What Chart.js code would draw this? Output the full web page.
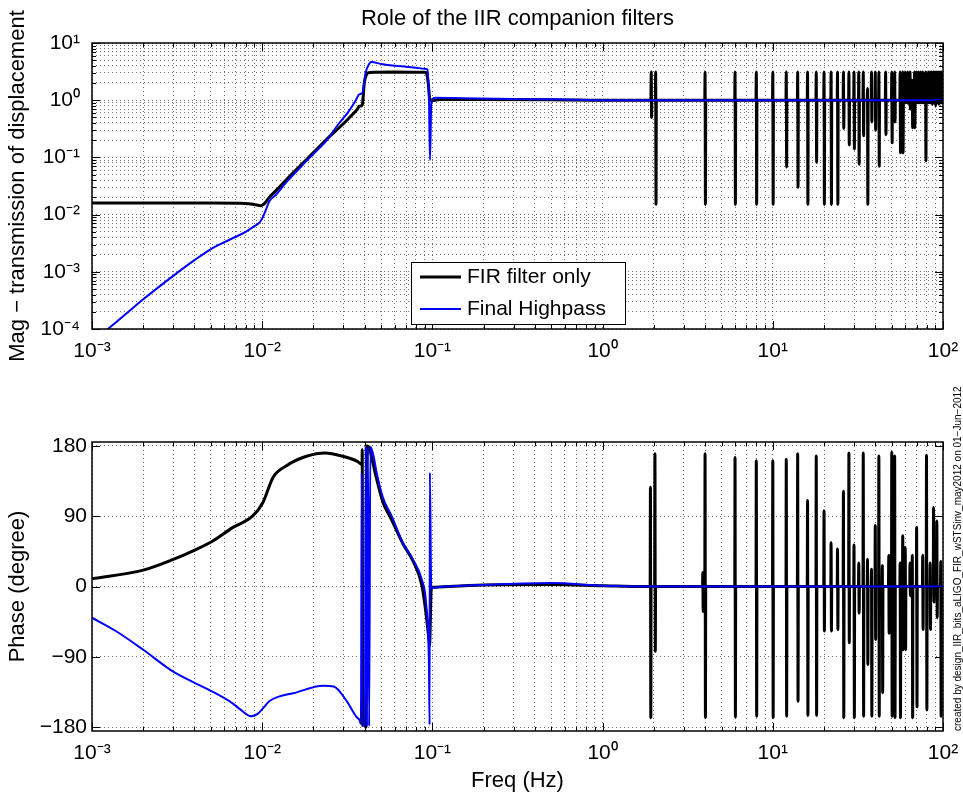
<!DOCTYPE html>
<html>
<head>
<meta charset="utf-8"/>
<title>Role of the IIR companion filters</title>
<script src="https://cdn.jsdelivr.net/npm/chart.js@4.4.1/dist/chart.umd.min.js"></script>
<style>
body { margin: 0; background: #fff; }
#wrap { position: relative; width: 963px; height: 794px; }
canvas { position: absolute; left: 0; }
</style>
</head>
<body>
<div id="wrap">
	<canvas id="mag" width="963" height="380" style="top:0px"></canvas>
	<canvas id="phase" width="963" height="414" style="top:380px"></canvas>
</div>
<script>
var FONT = "'Liberation Sans', Arial, Helvetica, sans-serif";
Chart.defaults.font.family = FONT;
Chart.defaults.color = '#000';

// ---- magnitude, FIR filter only (black) ----
var firMagF = [0.001, 0.005, 0.008, 0.009, 0.0098, 0.0103, 0.011, 0.012, 0.014, 0.017, 0.02, 0.024, 0.028, 0.032, 0.035, 0.0365, 0.037, 0.0383, 0.0388, 0.0398, 0.041, 0.0427, 0.06, 0.09, 0.092, 0.0945, 0.0965, 0.1, 0.11, 0.2, 0.5, 1, 1.8, 100];
var firMag  = [0.016, 0.016, 0.0157, 0.015, 0.0143, 0.0155, 0.02, 0.026, 0.042, 0.075, 0.121, 0.21, 0.32, 0.47, 0.62, 0.72, 0.78, 0.8, 0.85, 2.0, 2.8, 3.05, 3.1, 3.08, 3.05, 2.0, 1.05, 0.98, 1.03, 1.03, 1.02, 1.0, 1.0, 1.0];

// ---- magnitude, final highpass (blue) ----
var hpMagF = [0.001, 0.0012, 0.0015, 0.002, 0.003, 0.004, 0.005, 0.006, 0.007, 0.008, 0.009, 0.0095, 0.01, 0.0105, 0.011, 0.012, 0.014, 0.017, 0.02, 0.024, 0.028, 0.032, 0.0355, 0.037, 0.0385, 0.039, 0.0405, 0.0425, 0.0438, 0.05, 0.06, 0.07, 0.08, 0.09, 0.0935, 0.0955, 0.0968, 0.0985, 0.1, 0.105, 0.15, 0.3, 0.6, 1, 100];
var hpMag  = [5.6e-5, 9.2e-5, 1.6e-4, 3.3e-4, 8.5e-4, 1.6e-3, 2.5e-3, 3.3e-3, 4.1e-3, 5.0e-3, 6.3e-3, 7.0e-3, 8.5e-3, 0.012, 0.017, 0.022, 0.038, 0.07, 0.115, 0.2, 0.38, 0.62, 1.0, 1.25, 1.32, 1.4, 3.0, 4.3, 4.65, 4.3, 4.0, 3.85, 3.7, 3.55, 3.45, 1.0, 0.09, 0.9, 1.05, 1.1, 1.08, 1.05, 1.03, 1.0, 1.0];

// FIR comb notches above 1 Hz: frequency, peak, bottom
var notchF   = [1.93, 2.05, 4, 6, 8, 10, 12, 14, 16, 18, 20, 22, 24, 26, 28, 30, 32, 34, 36, 38, 40, 42, 46, 50, 52, 56, 58, 60, 62, 64, 66, 68, 70, 72, 74, 76, 79, 82, 84, 86, 88, 90, 92, 94, 96, 98];
var notchTop = [3.1, 3.1, 3.1, 3.1, 3.1, 3.1, 3.1, 3.1, 3.1, 3.1, 3.1, 3.1, 3.1, 3.1, 3.1, 3.1, 3.1, 3.1, 1.6, 3.1, 3.1, 3.1, 3.1, 3.1, 3.1, 3.1, 3.1, 3.1, 3.1, 3.1, 2.2, 3.1, 3.1, 3.1, 3.1, 3.1, 3.1, 3.1, 3.1, 3.1, 3.1, 3.1, 3.1, 3.1, 3.1, 3.1];
var notchLow = [0.5, 0.015, 0.015, 0.015, 0.015, 0.015, 0.068, 0.03, 0.015, 0.082, 0.015, 0.015, 0.015, 0.32, 0.165, 0.14, 0.076, 0.24, 0.015, 0.42, 0.3, 0.07, 0.25, 0.18, 0.42, 0.12, 0.12, 0.9, 0.88, 0.7, 0.33, 0.33, 0.9, 0.9, 0.9, 0.9, 0.087, 0.9, 0.9, 0.85, 0.9, 0.8, 0.9, 0.85, 0.9, 0.9];

// ---- phase, FIR filter only (black) ----
var firPhF = [0.001, 0.002, 0.003, 0.0039, 0.0051, 0.0067, 0.0088, 0.0101, 0.0116, 0.0139, 0.0182, 0.0234, 0.0298, 0.0364, 0.0386, 0.0387, 0.0389, 0.0398, 0.0408, 0.0412, 0.0425, 0.044, 0.047, 0.0512, 0.0574, 0.067, 0.0767, 0.0866, 0.0918, 0.0954, 0.0962, 0.0985, 0.1, 0.2, 0.5, 1, 1.8, 100];
var firPh  = [10, 21, 34.7, 45.4, 58, 75.4, 90.4, 107.6, 140, 154.7, 166.7, 171, 166.7, 160, 156, 175, -178, -170, -180, 180, 178, 165, 138, 108, 86, 55, 33, 2, -35, -68, -75, -2, -1, 2, 2.5, 1, 0, 0];

// ---- phase, final highpass (blue) ----
var hpPhF = [0.001, 0.00138, 0.002, 0.003, 0.0039, 0.0051, 0.0067, 0.0074, 0.0086, 0.0094, 0.0101, 0.011, 0.0125, 0.0152, 0.0228, 0.0263, 0.031, 0.0358, 0.0373, 0.038, 0.0385, 0.0388, 0.0402, 0.0405, 0.0412, 0.0418, 0.0425, 0.0432, 0.045, 0.047, 0.0512, 0.0574, 0.067, 0.0767, 0.0866, 0.0918, 0.0954, 0.0963, 0.0966, 0.0985, 0.1, 0.12, 0.2, 0.5, 1, 2, 100];
var hpPh  = [-40, -57, -81, -109, -122, -134.6, -149.6, -157, -166, -163, -156, -147, -141, -136.7, -127, -128, -145, -167, -171, -176, 145, -178, -178, 179, -179, 179, -179, 179, 168, 146, 114, 91, 56, 35, 9, -21, -98, -177, 146, -3, -2, 0, 2, 4.5, 1, 0, 0];

// FIR phase wraps at the comb notches: frequency, peak, bottom
var phSpikeF   = [1.91, 2.03, 3.88, 4, 6, 8, 10, 12, 14, 16, 18, 20, 22, 24, 26, 28, 30, 32, 34, 36, 38, 40, 42, 44, 48, 50, 52, 56, 58, 60, 64, 66, 70, 76, 80, 84, 88, 92, 97];
var phSpikeTop = [127, 170, 18, 170, 165, 161, 161, 163, 170, 110, 167, 97, 56, 48, 122, 171, 53, 30, 171, 35, 22, 78, 167, 27, 40, 172, 167, 30, 65, 50, 30, 40, 76, 40, 168, 30, 101, 84, 32];
var phSpikeLow = [-168, -83, -32, -168, -167, -166, -168, -166, -147, -165, -165, -57, -57, -55, -168, -72, -168, -34, -166, -100, -166, -68, -166, -136, -60, -166, -168, -168, -81, -81, -12, -168, -154, -55, -158, -55, -20, -40, -166];

// axes
var freqDecades = [-3, -2, -1, 0, 1, 2];
var magDecades = [-4, -3, -2, -1, 0, 1];
var phaseTicks = [-180, -90, 0, 90, 180];

function logTicks(decs) {
	var t = [];
	for (var i = 0; i < decs.length - 1; i++)
		for (var m = 1; m < 10; m++) t.push({value: m * Math.pow(10, decs[i])});
	t.push({value: Math.pow(10, decs[decs.length - 1])});
	return t;
}
function isDecade(v) {
	var e = Math.log10(v);
	return Math.abs(e - Math.round(e)) < 1e-9;
}
var SUP = {'-': '\u207B', '0': '\u2070', '1': '\u00B9', '2': '\u00B2', '3': '\u00B3', '4': '\u2074'};
function powLabel(v) {
	if (!isDecade(v)) return '';
	return '10' + String(Math.round(Math.log10(v))).split('').map(function(c){ return SUP[c]; }).join('');
}
function points(fs, vs) {
	return fs.map(function(f, i){ return {x: f, y: vs[i]}; });
}
function withSpikes(pts, sf, top, low, base) {
	sf.forEach(function(f, i){
		pts.push({x: f * 0.996, y: base}, {x: f, y: top[i]}, {x: f * 1.005, y: low[i]}, {x: f * 1.009, y: base});
	});
	pts.sort(function(a, b){ return a.x - b.x; });
	return pts;
}

// box with inward tick marks, like the original plot
var framePlugin = {
	id: 'frame',
	afterDatasetsDraw: function(chart) {
		var ctx = chart.ctx, a = chart.chartArea, sx = chart.scales.x, sy = chart.scales.y;
		ctx.save();
		ctx.strokeStyle = '#000';
		ctx.lineWidth = 1;
		ctx.beginPath();
		sx.ticks.forEach(function(t){
			var p = Math.round(sx.getPixelForValue(t.value)) + 0.5;
			var len = isDecade(t.value) ? 8 : 4;
			ctx.moveTo(p, a.bottom); ctx.lineTo(p, a.bottom - len);
			ctx.moveTo(p, a.top); ctx.lineTo(p, a.top + len);
		});
		sy.ticks.forEach(function(t){
			var p = Math.round(sy.getPixelForValue(t.value)) + 0.5;
			var len = (sy.type !== 'logarithmic' || isDecade(t.value)) ? 8 : 4;
			ctx.moveTo(a.left, p); ctx.lineTo(a.left + len, p);
			ctx.moveTo(a.right, p); ctx.lineTo(a.right - len, p);
		});
		ctx.stroke();
		ctx.lineWidth = 1.5;
		ctx.strokeRect(a.left, a.top, a.right - a.left, a.bottom - a.top);
		ctx.restore();
	}
};

var boxLegendPlugin = {
	id: 'boxLegend',
	afterDraw: function(chart, args, o) {
		if (!o || !o.width) return;
		var ctx = chart.ctx;
		ctx.save();
		ctx.fillStyle = '#fff';
		ctx.fillRect(o.left, o.top, o.width, o.height);
		ctx.strokeStyle = '#000';
		ctx.lineWidth = 1;
		ctx.strokeRect(o.left + 0.5, o.top + 0.5, o.width, o.height);
		ctx.font = '21px ' + FONT;
		ctx.textBaseline = 'middle';
		chart.data.datasets.forEach(function(ds, i){
			var y = o.top + 15 + i * 32;
			ctx.strokeStyle = ds.borderColor;
			ctx.lineWidth = ds.borderWidth;
			ctx.beginPath(); ctx.moveTo(o.left + 9, y); ctx.lineTo(o.left + 50, y); ctx.stroke();
			ctx.fillStyle = '#000';
			ctx.fillText(ds.label, o.left + 56, y);
		});
		ctx.restore();
	}
};

var sideNotePlugin = {
	id: 'sideNote',
	afterDraw: function(chart, args, o) {
		if (!o || !o.text) return;
		var ctx = chart.ctx;
		ctx.save();
		ctx.translate(o.x, o.y);
		ctx.rotate(-Math.PI / 2);
		ctx.font = o.size + 'px ' + FONT;
		ctx.fillStyle = '#000';
		ctx.textBaseline = 'middle';
		ctx.textAlign = 'left';
		ctx.fillText(o.text, 0, 0);
		ctx.restore();
	}
};

var GRID = 'rgba(0,0,0,0.55)';

function freqAxis(height, title) {
	return {
		type: 'logarithmic', min: 0.001, max: 100,
		afterBuildTicks: function(s){ s.ticks = logTicks(freqDecades); },
		afterFit: function(s){ s.height = height; s.paddingLeft = 0; s.paddingRight = 0; },
		ticks: {callback: powLabel, autoSkip: false, maxRotation: 0, minRotation: 0, padding: 10, font: {size: 21}, color: '#000'},
		grid: {color: GRID, lineWidth: 1, drawTicks: false},
		border: {display: false, dash: [1, 3]},
		title: title ? {display: true, text: title, font: {size: 22}, padding: {top: 0, bottom: 0}} : {display: false}
	};
}

var lineStyle = {tension: 0.4, cubicInterpolationMode: 'monotone', borderJoinStyle: 'bevel'};

var magChart = new Chart(document.getElementById('mag'), {
	type: 'scatter',
	data: {
		datasets: [{
			label: 'FIR filter only',
			data: withSpikes(points(firMagF, firMag), notchF, notchTop, notchLow, 1),
			borderColor: '#000000', borderWidth: 3, showLine: true, order: 1
		}, {
			label: 'Final Highpass',
			data: points(hpMagF, hpMag),
			borderColor: '#0000ff', borderWidth: 2, showLine: true, order: 0
		}]
	},
	options: {
		responsive: false,
		animation: false,
		layout: {padding: {left: 0, right: 20, top: 0, bottom: 0}},
		elements: {point: {radius: 0}, line: lineStyle},
		plugins: {
			legend: {display: false},
			tooltip: {enabled: false},
			title: {display: true, text: 'Role of the IIR companion filters', color: '#000', font: {size: 22, weight: 'normal'}, padding: {top: 6, bottom: 10.6}, fullSize: false},
			boxLegend: {left: 411, top: 262, width: 214, height: 62}
		},
		scales: {
			x: freqAxis(51, null),
			y: {
				type: 'logarithmic', min: 1e-4, max: 10,
				afterBuildTicks: function(s){ s.ticks = logTicks(magDecades); },
				afterFit: function(s){ s.width = 92; },
				ticks: {callback: powLabel, autoSkip: false, padding: 12, font: {size: 21}, color: '#000'},
				grid: {color: GRID, lineWidth: 1, drawTicks: false},
				border: {display: false, dash: [1, 3]},
				title: {display: true, text: 'Mag \u2212 transmission of displacement', font: {size: 22}, padding: {top: 5, bottom: 0}}
			}
		}
	},
	plugins: [framePlugin, boxLegendPlugin]
});

var phaseChart = new Chart(document.getElementById('phase'), {
	type: 'scatter',
	data: {
		datasets: [{
			label: 'FIR filter only',
			data: withSpikes(points(firPhF, firPh), phSpikeF, phSpikeTop, phSpikeLow, 0),
			borderColor: '#000000', borderWidth: 3, showLine: true, order: 1
		}, {
			label: 'Final Highpass',
			data: points(hpPhF, hpPh),
			borderColor: '#0000ff', borderWidth: 2, showLine: true, order: 0
		}]
	},
	options: {
		responsive: false,
		animation: false,
		layout: {padding: {left: 0, right: 20, top: 62, bottom: 0}},
		elements: {point: {radius: 0}, line: lineStyle},
		plugins: {
			legend: {display: false},
			tooltip: {enabled: false},
			sideNote: {text: 'created by design_IIR_bits_aLIGO_FIR_wSTSinv_may2012 on 01\u2212Jun\u22122012', x: 958, y: 351, size: 10}
		},
		scales: {
			x: freqAxis(63, 'Freq (Hz)'),
			y: {
				type: 'linear', min: -185, max: 185,
				afterBuildTicks: function(s){ s.ticks = phaseTicks.map(function(v){ return {value: v}; }); },
				afterFit: function(s){ s.width = 92; },
				ticks: {callback: function(v){ return v < 0 ? '\u2212' + (-v) : String(v); }, autoSkip: false, padding: 5, font: {size: 21}, color: '#000'},
				grid: {color: GRID, lineWidth: 1, drawTicks: false},
				border: {display: false, dash: [1, 3]},
				title: {display: true, text: 'Phase (degree)', font: {size: 22}, padding: {top: 5, bottom: 0}}
			}
		}
	},
	plugins: [framePlugin, sideNotePlugin]
});
</script>
</body>
</html>
